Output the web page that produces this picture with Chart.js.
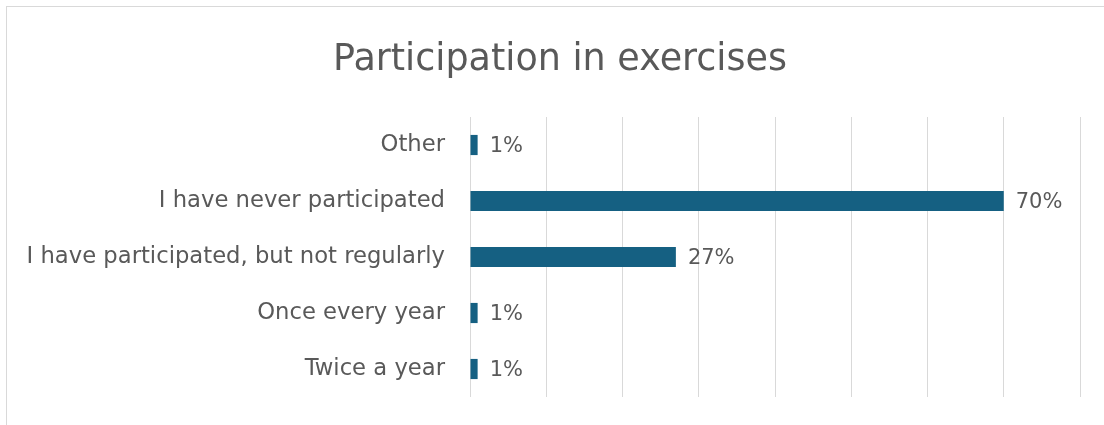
<!DOCTYPE html>
<html>
<head>
<meta charset="utf-8">
<script src="https://cdn.jsdelivr.net/npm/chart.js@4/dist/chart.umd.min.js"></script>
<style>
  html, body { margin: 0; padding: 0; background: #fff; overflow: hidden; }
  body { width: 1104px; height: 425px; position: relative; }
  #frame { position: absolute; left: 6px; top: 6px; width: 1200px; height: 500px; border: 1px solid #d9d9d9; }
  #wrap { position: absolute; left: 6px; top: 0; width: 1108px; height: 425px; }
</style>
</head>
<body>
<div id="frame"></div>
<div id="wrap"><canvas id="myChart"></canvas></div>
<script>
const categories = [
    'Other',
    'I have never participated',
    'I have participated, but not regularly',
    'Once every year',
    'Twice a year'
];
const shares = [1, 70, 27, 1, 1];
const axisMax = 80;
const axisStep = 10;
const chartTitle = 'Participation in exercises';

const textColor = '#595959';
const fontFamily = '"DejaVu Sans", "Liberation Sans", sans-serif';

// title centred on the whole frame, not on the padded box area
const titleText = {
    id: 'titleText',
    afterDraw(chart) {
        const ctx = chart.ctx;
        ctx.save();
        ctx.font = '36.5px ' + fontFamily;
        ctx.fillStyle = textColor;
        ctx.textAlign = 'center';
        ctx.textBaseline = 'alphabetic';
        ctx.fillText(chartTitle, 554, 70);
        ctx.restore();
    }
};

// percent label just past the end of each bar
const valueLabels = {
    id: 'valueLabels',
    afterDatasetsDraw(chart) {
        const ctx = chart.ctx;
        const meta = chart.getDatasetMeta(0);
        ctx.save();
        ctx.font = '21px ' + fontFamily;
        ctx.fillStyle = textColor;
        ctx.textAlign = 'left';
        ctx.textBaseline = 'middle';
        meta.data.forEach((bar, i) => {
            ctx.fillText(shares[i] + '%', bar.x + 12, bar.y + 2);
        });
        ctx.restore();
    }
};

new Chart(document.getElementById('myChart'), {
    type: 'bar',
    data: {
        labels: categories,
        datasets: [{
            data: shares,
            backgroundColor: '#156082',
            barPercentage: 0.36,
            categoryPercentage: 1
        }]
    },
    options: {
        indexAxis: 'y',
        responsive: true,
        maintainAspectRatio: false,
        animation: false,
        layout: { padding: { left: 0, right: 34, top: 117, bottom: 28 } },
        plugins: {
            legend: { display: false },
            tooltip: { enabled: false },
            title: { display: false }
        },
        scales: {
            x: {
                min: 0,
                max: axisMax,
                ticks: { display: false, stepSize: axisStep },
                grid: { color: '#d9d9d9', lineWidth: 1, drawTicks: false },
                border: { display: false }
            },
            y: {
                grid: { display: false, drawTicks: false },
                border: { display: false },
                ticks: {
                    color: textColor,
                    font: { family: fontFamily, size: 22.7 },
                    padding: 25
                },
                afterFit(scale) {
                    scale.width = 464;
                    // labels sit inside their bands, no extra room needed above/below
                    scale.paddingTop = 0;
                    scale.paddingBottom = 0;
                }
            }
        }
    },
    plugins: [valueLabels, titleText]
});
</script>
</body>
</html>
